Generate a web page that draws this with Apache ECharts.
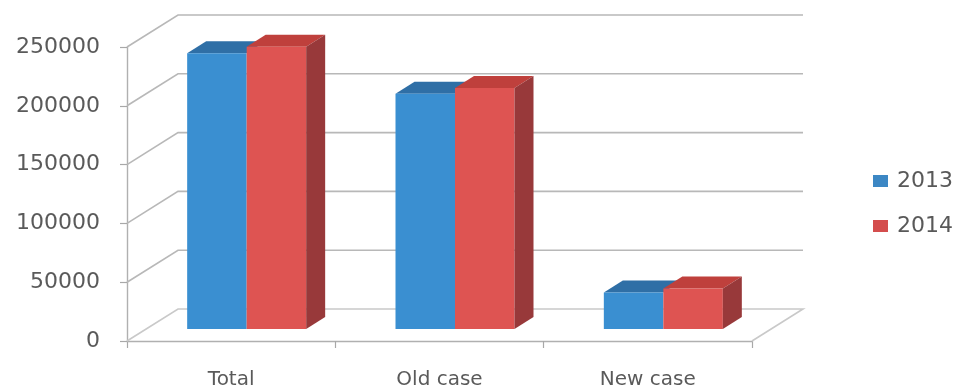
<!DOCTYPE html>
<html><head><meta charset="utf-8">
<style>html,body{margin:0;padding:0;background:#fff}#c{width:961px;height:390px;filter:blur(0.5px)}</style>
<script src="https://cdn.jsdelivr.net/npm/echarts@6/dist/echarts.min.js"></script>
</head><body><div id="c"></div>
<script>
const categories = ['Total', 'Old case', 'New case'];
const values2013 = [234500, 200000, 31000];
const values2014 = [240000, 205000, 34500];
const tickValues = [0, 50000, 100000, 150000, 200000, 250000];

const DX = 51, DY = 32;            // wall depth
const BAR_DX = 19, BAR_DY = 12;    // bar depth
const FRONT_DY = 12, CENTER_SHIFT = 15.5, BAR_W = 59.5;

const chart = echarts.init(document.getElementById('c'), null, {renderer: 'canvas'});

function wallItem(params, api) {
  const g = params.coordSys, v = api.value(0);
  const y = api.coord([0, v])[1];
  const x0 = g.x, x1 = g.x + g.width;
  const pts = [[x0, y], [x0 + DX, y - DY], [x1 + DX, y - DY]];
  if (v === 0) pts.push([x1, y]);
  return {type: 'polyline', shape: {points: pts},
    style: {fill: 'none', stroke: v === 0 ? '#c9c9c9' : '#b8b8b8', lineWidth: 1.6}, silent: true};
}

function barRenderer(side, cols, withSide) {
  return function (params, api) {
    const catI = api.value(0), val = api.value(1);
    const c = api.coord([catI, val]);
    const base = api.coord([catI, 0])[1] - FRONT_DY;
    const top = c[1] - FRONT_DY;
    const xc = c[0] + CENTER_SHIFT;
    const l = side === 0 ? xc - BAR_W : xc, r = side === 0 ? xc : xc + BAR_W;
    const children = [
      {type: 'polygon', shape: {points: [[l, top], [r, top], [r + BAR_DX, top - BAR_DY], [l + BAR_DX, top - BAR_DY]]},
       style: {fill: cols.top}},
      {type: 'rect', shape: {x: l, y: top, width: r - l, height: base - top}, style: {fill: cols.front}}
    ];
    if (withSide) children.push({type: 'polygon',
      shape: {points: [[r, top], [r + BAR_DX, top - BAR_DY], [r + BAR_DX, base - BAR_DY], [r, base]]},
      style: {fill: cols.side}});
    return {type: 'group', children};
  };
}

chart.setOption({
  animation: false,
  backgroundColor: '#ffffff',
  grid: {left: 127, top: 47, width: 625, height: 294, containLabel: false},
  legend: {
    data: ['2013', '2014'], orient: 'vertical', left: 868, top: 165, itemWidth: 15, itemHeight: 12, itemGap: 23,
    icon: 'rect', itemStyle: {borderWidth: 0},
    textStyle: {fontFamily: 'DejaVu Sans', fontSize: 22, color: '#595959', padding: [0, 0, 0, 4]}
  },
  xAxis: {
    type: 'category', data: categories, boundaryGap: true,
    axisLine: {lineStyle: {color: '#b0b0b0', width: 1.4}},
    axisTick: {show: true, alignWithLabel: false, length: 7, lineStyle: {color: '#a8a8a8', width: 1.2}},
    axisLabel: {fontFamily: 'DejaVu Sans', fontSize: 20, color: '#5a5a5a', margin: 29},
    splitLine: {show: false}
  },
  yAxis: {
    type: 'value', min: 0, max: 250000, interval: 50000,
    axisLine: {show: true, lineStyle: {color: '#b0b0b0', width: 1.4}},
    axisTick: {show: true, length: 7, lineStyle: {color: '#a8a8a8', width: 1.2}},
    axisLabel: {fontFamily: 'DejaVu Sans', fontSize: 22, color: '#5a5a5a', margin: 27, formatter: v => String(v)},
    splitLine: {show: false}
  },
  series: [
    {name: 'walls', type: 'custom', renderItem: wallItem, data: tickValues.map(v => [v]),
     encode: {y: 0}, clip: false, silent: true, z: 1},
    {name: '2013', type: 'custom', z: 2, clip: false,
     itemStyle: {color: '#3c87c4'},
     renderItem: barRenderer(0, {front: '#3a8fd1', top: '#2f6fa6'}, false),
     data: values2013.map((v, i) => [i, v]), encode: {x: 0, y: 1}},
    {name: '2014', type: 'custom', z: 3, clip: false,
     itemStyle: {color: '#d44d4d'},
     renderItem: barRenderer(1, {front: '#de5452', top: '#bf403c', side: '#98393a'}, true),
     data: values2014.map((v, i) => [i, v]), encode: {x: 0, y: 1}}
  ]
});
</script></body></html>
